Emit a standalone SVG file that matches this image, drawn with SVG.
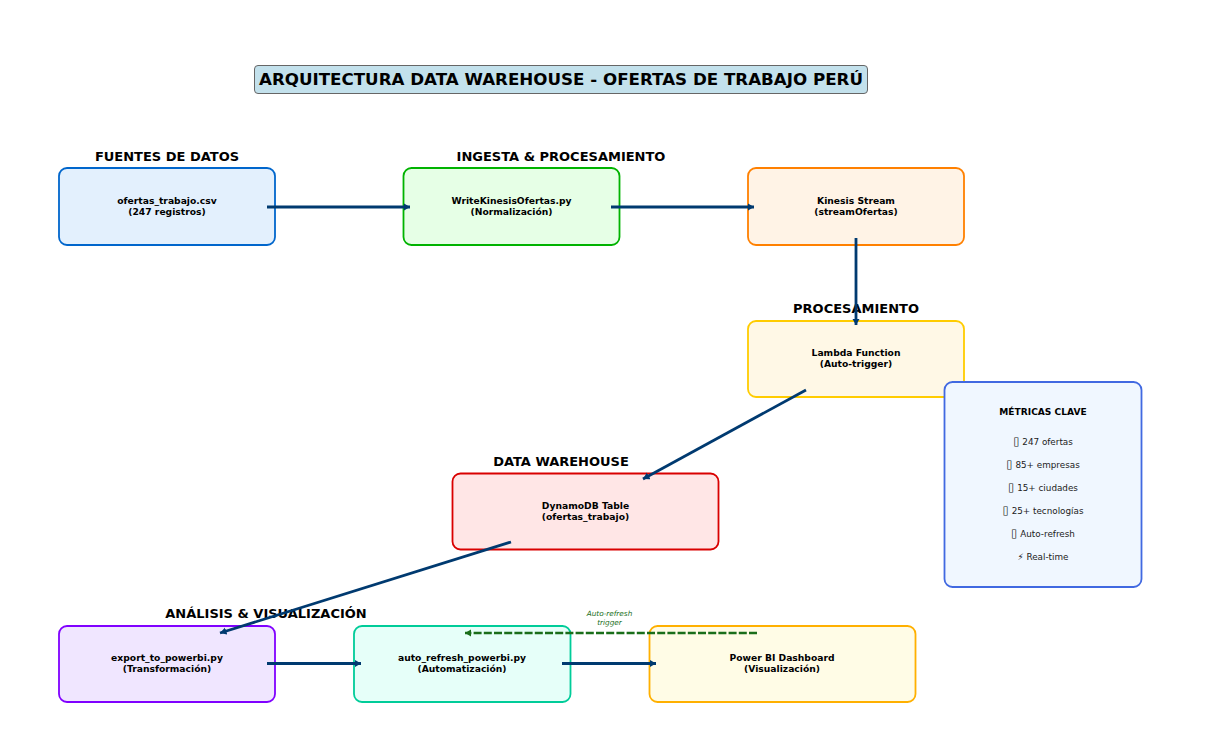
<svg xmlns="http://www.w3.org/2000/svg" width="1213" height="752" viewBox="0 0 1213 752">
<style>
text{font-family:"DejaVu Sans","Liberation Sans",sans-serif;text-anchor:middle;fill:#000}
.h{font-size:13px;font-weight:bold}
.l{font-size:9.2px;font-weight:bold}
.m{font-size:8.8px;fill:#222}
.t{font-size:11.5px}
.b{stroke-width:1.8}
.c{fill:none;stroke:#003a70;stroke-width:2.8}
.d{fill:none;stroke:#1a6e1a;stroke-width:2.4;stroke-dasharray:8 2.2}
</style>
<defs>
<marker id="a" markerUnits="userSpaceOnUse" markerWidth="10" markerHeight="10" refX="6.500" refY="4" orient="auto"><path d="M0 0.200L6.500 4L0 7.800z" fill="#003a70"/></marker>
<marker id="g" markerUnits="userSpaceOnUse" markerWidth="10" markerHeight="10" refX="6" refY="4" orient="auto"><path d="M0 0.500L6 4L0 7.500z" fill="#1a6e1a"/></marker>
</defs>
<rect width="1213" height="752" fill="#fff"/>
<g id="title"><rect x="254.500" y="65.500" width="613" height="28" rx="3.500" fill="#c3e1ec" stroke="#666"/><text x="561" y="84.500" font-size="16.700" font-weight="bold">ARQUITECTURA DATA WAREHOUSE - OFERTAS DE TRABAJO PERÚ</text></g>
<g id="section-labels">
<text class="h" x="167" y="160.500">FUENTES DE DATOS</text>
<text class="h" x="561" y="160.500">INGESTA &amp; PROCESAMIENTO</text>
<text class="h" x="856" y="313">PROCESAMIENTO</text>
<text class="h" x="561" y="465.500">DATA WAREHOUSE</text>
<text class="h" x="266" y="618">ANÁLISIS &amp; VISUALIZACIÓN</text>
</g>
<g id="node-csv"><rect class="b" x="59" y="168" width="216" height="77" rx="8" fill="#e3f0fd" stroke="#0066cc"/><text class="l" x="167" y="203.500">ofertas_trabajo.csv</text><text class="l" x="167" y="214.500">(247 registros)</text></g>
<g id="node-write"><rect class="b" x="403.500" y="168" width="216" height="77" rx="8" fill="#e6ffe6" stroke="#00b300"/><text class="l" x="511.500" y="203.500">WriteKinesisOfertas.py</text><text class="l" x="511.500" y="214.500">(Normalización)</text></g>
<g id="node-kinesis"><rect class="b" x="748" y="168" width="216" height="77" rx="8" fill="#fff3e6" stroke="#ff8000"/><text class="l" x="856" y="203.500">Kinesis Stream</text><text class="l" x="856" y="214.500">(streamOfertas)</text></g>
<g id="node-lambda"><rect class="b" x="748" y="321" width="216" height="76" rx="8" fill="#fff8e6" stroke="#ffcc00"/><text class="l" x="856" y="356">Lambda Function</text><text class="l" x="856" y="367">(Auto-trigger)</text></g>
<g id="node-dynamo"><rect class="b" x="452.500" y="473.500" width="266" height="76" rx="8" fill="#ffe6e6" stroke="#d90000"/><text class="l" x="585.500" y="508.500">DynamoDB Table</text><text class="l" x="585.500" y="519.500">(ofertas_trabajo)</text></g>
<g id="node-export"><rect class="b" x="59" y="626" width="216" height="76" rx="8" fill="#f0e6ff" stroke="#8000ff"/><text class="l" x="167" y="661">export_to_powerbi.py</text><text class="l" x="167" y="672">(Transformación)</text></g>
<g id="node-auto"><rect class="b" x="354" y="626" width="216.500" height="76" rx="8" fill="#e6fff9" stroke="#00cc99"/><text class="l" x="462" y="661">auto_refresh_powerbi.py</text><text class="l" x="462" y="672">(Automatización)</text></g>
<g id="node-powerbi"><rect class="b" x="649.500" y="626" width="266" height="76" rx="8" fill="#fffce6" stroke="#ffb000"/><text class="l" x="782" y="661">Power BI Dashboard</text><text class="l" x="782" y="672">(Visualización)</text></g>
<g id="node-metricas"><rect class="b" x="944.500" y="382" width="197" height="205" rx="8" fill="#f0f7ff" stroke="#4169e1"/>
<text x="1043" y="415" font-size="9.100" font-weight="bold">MÉTRICAS CLAVE</text>
<text class="m" x="1043" y="445"><tspan class="t">▯</tspan> 247 ofertas</text>
<text class="m" x="1043" y="468"><tspan class="t">▯</tspan> 85+ empresas</text>
<text class="m" x="1043" y="491"><tspan class="t">▯</tspan> 15+ ciudades</text>
<text class="m" x="1043" y="514"><tspan class="t">▯</tspan> 25+ tecnologías</text>
<text class="m" x="1043" y="537"><tspan class="t">▯</tspan> Auto-refresh</text>
<text class="m" x="1043" y="560">⚡ Real-time</text></g>
<g id="connectors">
<path class="c" marker-end="url(#a)" d="M267 207H410"/>
<path class="c" marker-end="url(#a)" d="M611 207H754"/>
<path class="c" marker-end="url(#a)" d="M856 238V325"/>
<path class="c" marker-end="url(#a)" d="M806 390L643 479"/>
<path class="c" marker-end="url(#a)" d="M511 542L220 633"/>
<path class="c" marker-end="url(#a)" d="M267 663.500H361"/>
<path class="c" marker-end="url(#a)" d="M562 663.500H656"/>
<path class="d" marker-end="url(#g)" d="M757 633H465"/>
<text x="609.500" y="616" font-size="7.300" font-style="italic" style="fill:#1a6e1a">Auto-refresh</text>
<text x="609.500" y="625" font-size="7.300" font-style="italic" style="fill:#1a6e1a">trigger</text>
</g>
</svg>
